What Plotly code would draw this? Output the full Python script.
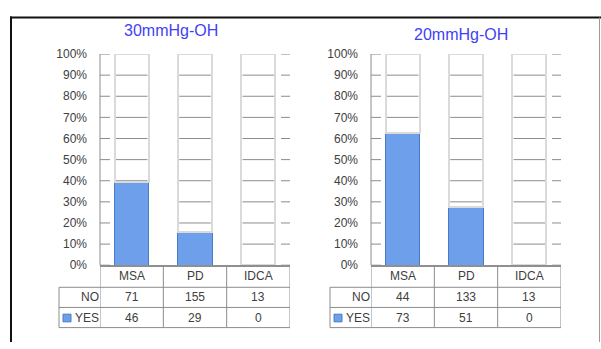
import numpy as np
import plotly.graph_objects as go

categories = ["MSA", "PD", "IDCA"]
yes_30 = [46, 29, 0]
no_30 = [71, 155, 13]
yes_20 = [73, 51, 0]
no_20 = [44, 133, 13]
titles = ["30mmHg-OH", "20mmHg-OH"]
row_labels = ["NO", "YES"]
y_ticks = list(range(0, 101, 10))

W, H = 601, 349


def fx(p):
    return p / W


def fy(p):
    return 1 - p / H


FONT = "Liberation Sans, Arial, sans-serif"
TXT = "#404040"
GRID = "#8c8c8c"
TABLE_LINE = "#8c8c8c"
BLUE = "#6d9fea"
BLUE_EDGE = "#4a7cc6"
BARGAP = 0.46
FS = 12

panels = [
    dict(yes=yes_30, no=no_30, title=titles[0], x0=100, x1=290, lab0=59, tx=171, ty=25, xa="x", ya="y"),
    dict(yes=yes_20, no=no_20, title=titles[1], x0=371, x1=561, lab0=330, tx=461, ty=29, xa="x2", ya="y2"),
]
TOP, BOTTOM = 49, 269
ROWS = [269, 292, 313, 334]

fig = go.Figure()
shapes = []
annotations = []
half = (1 - BARGAP) / 2

for p in panels:
    yes = np.array(p["yes"], dtype=float)
    no = np.array(p["no"], dtype=float)
    yes_pct = 100 * yes / (yes + no)
    no_pct = 100 - yes_pct
    fig.add_trace(go.Bar(x=categories, y=yes_pct, xaxis=p["xa"], yaxis=p["ya"], name="YES",
                         marker=dict(color=BLUE, line=dict(color=BLUE_EDGE, width=1)),
                         showlegend=False, hoverinfo="skip"))
    fig.add_trace(go.Bar(x=categories, y=no_pct, xaxis=p["xa"], yaxis=p["ya"], name="NO",
                         marker=dict(color="rgba(255,255,255,0)", line=dict(color="#dadada", width=2)),
                         showlegend=False, hoverinfo="skip"))
    # gridline segments inside the columns
    for i in range(len(categories)):
        for t in y_ticks[1:-1]:
            shapes.append(dict(type="line", xref=p["xa"], yref=p["ya"], x0=i - half + 0.02, x1=i + half - 0.02,
                               y0=t, y1=t, layer="below", line=dict(color=GRID, width=1)))
    # axis tick marks (inside, left and right edges), placed in category units
    unit = 3 / (p["x1"] - p["x0"])
    for t in y_ticks:
        shapes.append(dict(type="line", xref=p["xa"], yref=p["ya"], x0=-0.5, x1=-0.5 + 10 * unit,
                           y0=t, y1=t, layer="above", line=dict(color=GRID, width=1)))
        shapes.append(dict(type="line", xref=p["xa"], yref=p["ya"], x0=2.5 - 9 * unit, x1=2.5,
                           y0=t, y1=t, layer="above", line=dict(color=GRID, width=1)))
    # left axis line
    shapes.append(dict(type="line", xref="paper", yref="paper", x0=fx(p["x0"]), x1=fx(p["x0"]),
                       y0=fy(BOTTOM), y1=fy(TOP), line=dict(color=GRID, width=1)))
    xd = p["xa"]
    # table lines
    for k in range(len(categories) + 1):
        shapes.append(dict(type="line", xref=xd, yref="paper", x0=k - 0.5, x1=k - 0.5,
                           y0=fy(ROWS[0]), y1=fy(ROWS[-1]), line=dict(color=TABLE_LINE, width=1)))
    shapes.append(dict(type="line", xref="paper", yref="paper", x0=fx(p["lab0"]), x1=fx(p["lab0"]),
                       y0=fy(ROWS[1]), y1=fy(ROWS[-1]), line=dict(color=TABLE_LINE, width=1)))
    for r in ROWS[1:]:
        shapes.append(dict(type="line", xref="paper", yref="paper", x0=fx(p["lab0"]), x1=fx(p["x1"]),
                           y0=fy(r), y1=fy(r), line=dict(color=TABLE_LINE, width=1)))
    # legend key
    shapes.append(dict(type="rect", xref="paper", yref="paper", x0=fx(p["lab0"] + 4), x1=fx(p["lab0"] + 12),
                       y0=fy(328), y1=fy(320), fillcolor=BLUE, line=dict(color=BLUE_EDGE, width=1)))
    # table text
    centers = [(ROWS[j] + ROWS[j + 1]) / 2 for j in range(3)]
    for i, c in enumerate(categories):
        annotations.append(dict(xref=xd, yref="paper", x=c, y=fy(centers[0]), text=c, showarrow=False,
                                font=dict(family=FONT, size=FS, color=TXT), xanchor="center", yanchor="middle"))
        annotations.append(dict(xref=xd, yref="paper", x=c, y=fy(centers[1]), text=str(p["no"][i]), showarrow=False,
                                font=dict(family=FONT, size=FS, color=TXT), xanchor="center", yanchor="middle"))
        annotations.append(dict(xref=xd, yref="paper", x=c, y=fy(centers[2]), text=str(p["yes"][i]), showarrow=False,
                                font=dict(family=FONT, size=FS, color=TXT), xanchor="center", yanchor="middle"))
    for j, lab in enumerate(row_labels):
        annotations.append(dict(xref="paper", yref="paper", x=fx(p["x0"] + 1), y=fy(centers[j + 1]), text=lab,
                                showarrow=False, font=dict(family=FONT, size=FS, color=TXT),
                                xanchor="right", yanchor="middle"))
    annotations.append(dict(xref="paper", yref="paper", x=fx(p["tx"]), y=fy(p["ty"]), text=p["title"],
                            showarrow=False, font=dict(family=FONT, size=16, color="#3f3ff5"),
                            xanchor="center", yanchor="middle"))

# outer frame
shapes.append(dict(type="line", xref="paper", yref="paper", x0=fx(10), x1=1, y0=fy(11), y1=fy(11),
                   line=dict(color="#111111", width=2)))
shapes.append(dict(type="line", xref="paper", yref="paper", x0=fx(11), x1=fx(11), y0=fy(10), y1=0,
                   line=dict(color="#111111", width=2)))
shapes.append(dict(type="line", xref="paper", yref="paper", x0=fx(599.5), x1=fx(599.5), y0=fy(11), y1=0,
                   line=dict(color="#9a9a9a", width=1)))

axis_common_x = dict(range=[-0.5, 2.5], showticklabels=False, ticks="", showgrid=False, zeroline=False,
                     showline=True, linecolor="#8f8f8f", linewidth=2, fixedrange=True)
axis_common_y = dict(range=[0, 100], tickvals=y_ticks, ticktext=[f"{t}%" for t in y_ticks],
                     ticks="", showline=False, showgrid=False, zeroline=False, ticklabelstandoff=12,
                     tickfont=dict(family=FONT, size=FS, color=TXT), fixedrange=True)

fig.update_layout(
    width=W, height=H, margin=dict(l=0, r=0, t=0, b=0),
    paper_bgcolor="white", plot_bgcolor="rgba(0,0,0,0)",
    barmode="stack", bargap=BARGAP, showlegend=False,
    xaxis=dict(domain=[fx(panels[0]["x0"]), fx(panels[0]["x1"])], anchor="y", **axis_common_x),
    yaxis=dict(domain=[fy(BOTTOM), fy(TOP)], anchor="x", **axis_common_y),
    xaxis2=dict(domain=[fx(panels[1]["x0"]), fx(panels[1]["x1"])], anchor="y2", **axis_common_x),
    yaxis2=dict(domain=[fy(BOTTOM), fy(TOP)], anchor="x2", **axis_common_y),
    shapes=shapes, annotations=annotations,
)

fig.write_html("out.html")
